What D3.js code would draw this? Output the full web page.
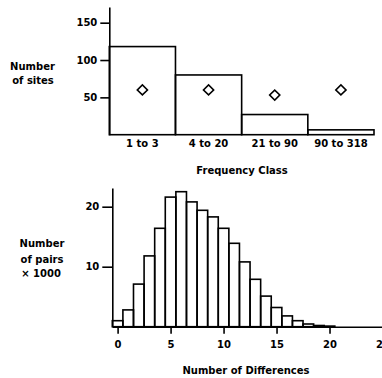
<!DOCTYPE html>
<html>
<head>
<meta charset="utf-8">
<script src="https://cdn.jsdelivr.net/npm/d3@7"></script>
<style>
  body { margin: 0; background: #fff; }
  .chart { width: 382px; height: 378px; }
  text { font-family: "DejaVu Sans", sans-serif; font-size: 10px; font-weight: bold; fill: #000; }
</style>
</head>
<body>
<div class="chart"></div>
<script>
// top panel: sites per frequency class, with diamond markers
const classes = ['1 to 3', '4 to 20', '21 to 90', '90 to 318'];
const sites = [118, 80, 27, 6.5];
const diamonds = [60, 60, 53, 60];
const topTicks = [50, 100, 150];

// bottom panel: pairwise differences histogram (thousands of pairs)
const diffs = [0,1,2,3,4,5,6,7,8,9,10,11,12,13,14,15,16,17,18,19,20];
const pairs = [1.0,2.8,7.1,11.8,16.4,21.6,22.5,20.8,19.4,18.3,16.4,13.9,10.8,7.9,5.1,3.2,1.8,1.0,0.45,0.2,0.1];
const xTicks = [0, 5, 10, 15, 20, 25];
const yTicks = [10, 20];

const width = 382, height = 378;
const svg = d3.select('.chart').append('svg')
	.attr('width', width)
	.attr('height', height);

const sw = 1.6;

//----- top chart
const x1 = d3.scaleBand().domain(classes).range([109.3, 374]).padding(0);
const y1 = d3.scaleLinear().domain([0, 171]).range([134.7, 7]);

svg.append('g')
	.selectAll('rect')
	.data(sites)
	.join('rect')
	.attr('x', (d, i) => x1(classes[i]))
	.attr('y', d => y1(d))
	.attr('width', x1.bandwidth())
	.attr('height', d => y1(0) - y1(d))
	.style('fill', 'none')
	.style('stroke', '#000')
	.style('stroke-width', sw);

const yAxis1 = svg.append('g')
	.attr('transform', `translate(${x1.range()[0]},0)`)
	.call(d3.axisLeft(y1).tickValues(topTicks).tickSize(9).tickPadding(3).tickSizeOuter(0));
yAxis1.select('.domain').style('stroke-width', sw);
yAxis1.selectAll('.tick line').style('stroke-width', sw);

const diamond = d3.symbol().type(d3.symbolSquare).size(52);
svg.append('g')
	.selectAll('path')
	.data(diamonds)
	.join('path')
	.attr('d', diamond)
	.attr('transform', (d, i) => `translate(${x1(classes[i]) + x1.bandwidth() / 2},${y1(d)}) rotate(45)`)
	.style('fill', 'none')
	.style('stroke', '#000')
	.style('stroke-width', 1.6);

svg.append('g')
	.selectAll('text')
	.data(classes)
	.join('text')
	.attr('x', d => x1(d) + x1.bandwidth() / 2)
	.attr('y', 147)
	.attr('text-anchor', 'middle')
	.text(d => d);

svg.append('text').attr('x', 242).attr('y', 174).attr('text-anchor', 'middle').text('Frequency Class');
svg.append('text').attr('x', 32.5).attr('y', 69.5).attr('text-anchor', 'middle').text('Number');
svg.append('text').attr('x', 33).attr('y', 84).attr('text-anchor', 'middle').text('of sites');

//----- bottom chart
const x2 = d3.scaleLinear().domain([-0.5, 25]).range([112.3, 382.5]);
const y2 = d3.scaleLinear().domain([0, 23.1]).range([326.7, 188.1]);

svg.append('g')
	.selectAll('rect')
	.data(pairs)
	.join('rect')
	.attr('x', (d, i) => x2(diffs[i] - 0.5))
	.attr('y', d => y2(d))
	.attr('width', (d, i) => x2(diffs[i] + 0.5) - x2(diffs[i] - 0.5))
	.attr('height', d => y2(0) - y2(d))
	.style('fill', 'none')
	.style('stroke', '#000')
	.style('stroke-width', sw);

const xAxis2 = svg.append('g')
	.attr('transform', `translate(0,${y2(0)})`)
	.call(d3.axisBottom(x2).tickValues(xTicks).tickSize(7).tickPadding(7).tickSizeOuter(0));
xAxis2.select('.domain').style('stroke-width', sw);
xAxis2.selectAll('.tick line').style('stroke-width', sw);

const yAxis2 = svg.append('g')
	.attr('transform', `translate(${x2(-0.5)},0)`)
	.call(d3.axisLeft(y2).tickValues(yTicks).tickSize(10).tickPadding(3).tickSizeOuter(0));
yAxis2.select('.domain').style('stroke-width', sw);
yAxis2.selectAll('.tick line').style('stroke-width', sw);

svg.selectAll('.tick text').style('font-family', '"DejaVu Sans", sans-serif').style('font-size', '10px').style('font-weight', 'bold');

svg.append('text').attr('x', 246).attr('y', 374).attr('text-anchor', 'middle').text('Number of Differences');
svg.append('text').attr('x', 42).attr('y', 247).attr('text-anchor', 'middle').text('Number');
svg.append('text').attr('x', 42).attr('y', 262.5).attr('text-anchor', 'middle').text('of pairs');
svg.append('text').attr('x', 41).attr('y', 276.5).attr('text-anchor', 'middle').text('\u00d7 1000');
</script>
</body>
</html>
